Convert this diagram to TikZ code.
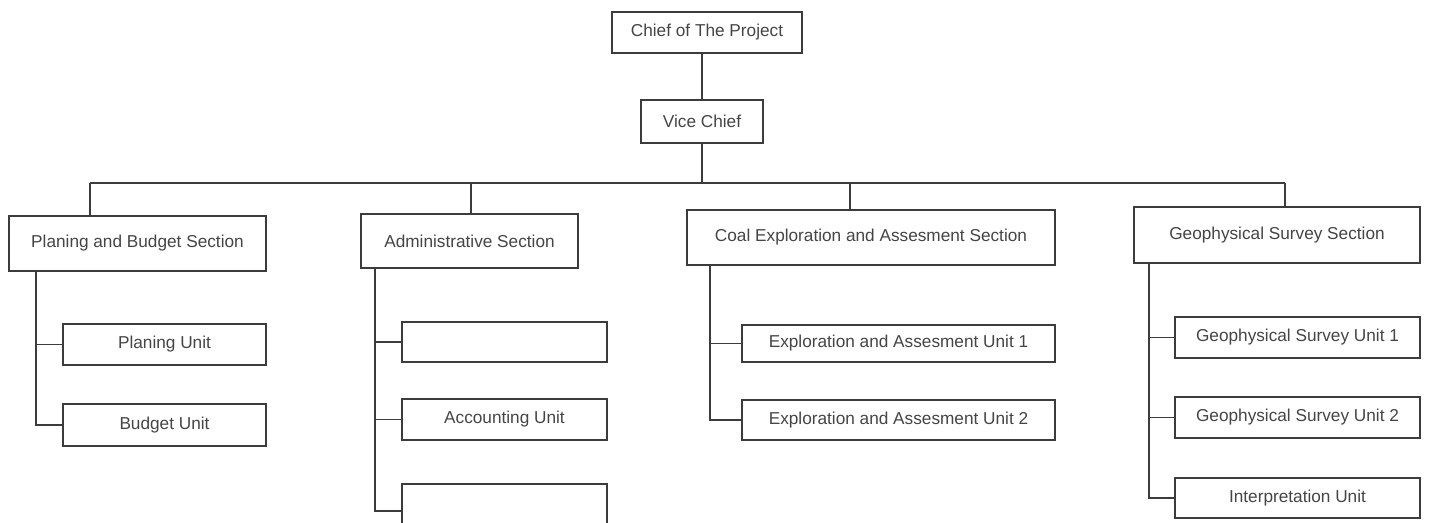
\documentclass[tikz,border=0pt]{standalone}
\usepackage{fontspec}
\setsansfont{Liberation Sans}
\definecolor{orgline}{HTML}{3C3C3C}
\definecolor{orgtext}{HTML}{454545}
\usetikzlibrary{positioning}
\tikzset{
    orgbox/.style={
        draw=orgline,
        fill=white,
        line width=0.6pt,
        inner sep=0pt,
        align=center,
        text=orgtext,
        font=\sffamily\fontsize{9.8}{11}\selectfont
    },
    orgline/.style={
        draw=orgline,
        line width=0.6pt
    }
}

\begin{document}
\begin{tikzpicture}[
        unitbox/.style={orgbox,minimum height=0.82cm}
    ]
        \useasboundingbox (0,0) rectangle (28.58,-10.44);
        \clip (0,0) rectangle (28.58,-10.44);

        \node[orgbox,minimum width=3.8cm,minimum height=0.82cm] (chief) at (14.14,-0.65)
            {Chief of The Project};
        \node[orgbox,minimum width=2.44cm,minimum height=0.86cm] (vice) at (14.04,-2.43)
            {Vice Chief};

        \node[orgbox,minimum width=5.14cm,minimum height=1.10cm] (plansec) at (2.75,-4.87)
            {Planing and Budget Section};
        \node[orgbox,minimum width=4.34cm,minimum height=1.08cm] (adminsec) at (9.39,-4.82)
            {Administrative Section};
        \node[orgbox,minimum width=7.36cm,minimum height=1.10cm] (coalsec) at (17.42,-4.75)
            {Coal Exploration and Assesment Section};
        \node[orgbox,minimum width=5.72cm,minimum height=1.12cm] (geosec) at (25.54,-4.70)
            {Geophysical Survey Section};

        \node[unitbox,minimum width=4.06cm] (planunit) at (3.29,-6.89) {Planing Unit};
        \node[unitbox,minimum width=4.06cm,minimum height=0.84cm] (budgetunit) at (3.29,-8.50) {Budget Unit};

        \node[unitbox,minimum width=4.10cm,minimum height=0.80cm] (adminone) at (10.09,-6.84) {};
        \node[unitbox,minimum width=4.10cm] (accunit) at (10.09,-8.39) {Accounting Unit};
        \node[unitbox,minimum width=4.10cm,minimum height=1.08cm] (adminthree) at (10.09,-10.22) {};

        \node[unitbox,minimum width=6.26cm,minimum height=0.74cm] (coalone) at (17.97,-6.87)
            {Exploration and Assesment Unit 1};
        \node[unitbox,minimum width=6.26cm,minimum height=0.80cm] (coaltwo) at (17.97,-8.40)
            {Exploration and Assesment Unit 2};

        \node[unitbox,minimum width=4.90cm] (geoone) at (25.95,-6.75) {Geophysical Survey Unit 1};
        \node[unitbox,minimum width=4.90cm] (geotwo) at (25.95,-8.35) {Geophysical Survey Unit 2};
        \node[unitbox,minimum width=4.90cm,minimum height=0.80cm] (interp) at (25.95,-9.96) {Interpretation Unit};

        \coordinate (plandrop) at (1.80,-3.66);
        \coordinate (admindrop) at (9.42,-3.66);
        \coordinate (coaldrop) at (17.00,-3.66);
        \coordinate (geodrop) at (25.70,-3.66);
        \coordinate (planspine) at (0.72,0);
        \coordinate (adminspine) at (7.50,0);
        \coordinate (coalspine) at (14.20,0);
        \coordinate (geospine) at (22.98,0);

        \draw[orgline] (chief.south -| vice.south) -- (vice.north);
        \draw[orgline] (vice.south) -- (vice.south |- plandrop);
        \draw[orgline] (plandrop) -- (geodrop);
        \draw[orgline] (plandrop) -- (plandrop |- plansec.north);
        \draw[orgline] (admindrop) -- (admindrop |- adminsec.north);
        \draw[orgline] (coaldrop) -- (coaldrop |- coalsec.north);
        \draw[orgline] (geodrop) -- (geodrop |- geosec.north);

        \draw[orgline] (planspine |- plansec.south) |- (budgetunit.west);
        \draw[orgline] (planspine |- planunit.west) -- (planunit.west);
        \draw[orgline] (adminspine |- adminsec.south) |- (adminthree.west);
        \draw[orgline] (adminspine |- adminone.west) -- (adminone.west);
        \draw[orgline] (adminspine |- accunit.west) -- (accunit.west);
        \draw[orgline] (coalspine |- coalsec.south) |- (coaltwo.west);
        \draw[orgline] (coalspine |- coalone.west) -- (coalone.west);
        \draw[orgline] (geospine |- geosec.south) |- (interp.west);
        \draw[orgline] (geospine |- geoone.west) -- (geoone.west);
        \draw[orgline] (geospine |- geotwo.west) -- (geotwo.west);
    \end{tikzpicture}
\end{document}
